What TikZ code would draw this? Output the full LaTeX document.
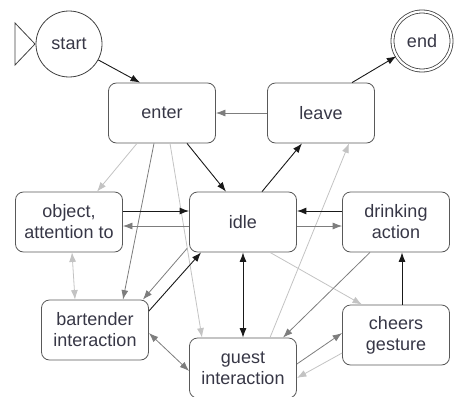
\documentclass[tikz,border=0pt]{standalone}
\usepackage{fontspec}
\setmainfont{Liberation Sans}
\usetikzlibrary{calc,shapes,arrows.meta}
\definecolor{txt}{RGB}{55,55,70}
\definecolor{midgray}{RGB}{125,125,125}
\definecolor{pale}{RGB}{195,195,195}

\tikzset{
    hd/.tip={Latex[length=9.5pt,width=7pt]},
    state/.style={draw=black!65, line width=0.8pt, rounded corners=8pt, minimum width=107pt, minimum height=60pt, align=center, text=txt, font=\fontsize{18}{21}\selectfont},
    ring/.style={draw=black!75, line width=0.8pt, circle, inner sep=0pt, text=txt, font=\fontsize{18}{21}\selectfont},
    blk/.style={draw=black!90, line width=0.9pt},
    gry/.style={draw=midgray, line width=0.8pt},
    pl/.style={draw=pale, line width=0.8pt}
}

\begin{document}
\begin{tikzpicture}[x=1pt,y=-1pt]
        \useasboundingbox (0,0) rectangle (454,396);
        \draw[black!75, line width=0.8pt] (15,23) -- (35,44) -- (15,65) -- cycle;
        \node[ring, minimum size=66pt] (start) at (69,44) {start};
        \node[ring, minimum size=59pt, double, double distance=2.2pt] (end) at (422,41) {end};
        \node[state] (enter) at (162,113) {enter};
        \node[state] (leave) at (321,113) {leave};
        \node[state] (object) at (69,222) {object,\\attention to};
        \node[state] (idle) at (243,222) {idle};
        \node[state] (drinking) at (396,222) {drinking\\action};
        \node[state] (bartender) at (95,330) {bartender\\interaction};
        \node[state] (guest) at (243,368) {guest\\interaction};
        \node[state] (cheers) at (396,335) {cheers\\gesture};

        \draw[blk,-hd] (start) -- ([xshift=-22pt]enter.north);
        \draw[gry,-hd] (leave.west) -- (enter.east);
        \draw[blk,-hd] ([xshift=31pt]leave.north) -- (end);
        \draw[pl,-hd] ([xshift=-25pt]enter.south) -- ([xshift=28pt]object.north);
        \draw[gry,-hd] ([xshift=-8pt]enter.south) -- ([xshift=28pt]bartender.north);
        \draw[pl,-hd] ([xshift=8pt]enter.south) -- ([xshift=-41pt]guest.north);
        \draw[blk,-hd] ([xshift=25pt]enter.south) -- ([xshift=-17pt]idle.north);
        \draw[blk,-hd] ([xshift=19pt]idle.north) -- ([xshift=-19pt]leave.south);
        \draw[pl,-hd] ([xshift=27pt]guest.north) -- ([xshift=28pt]leave.south);

        \draw[blk,-hd] ([yshift=11pt]object.east) -- ([yshift=11pt]idle.west);
        \draw[gry,-hd] ([yshift=-4pt]idle.west) -- ([yshift=-4pt]object.east);
        \draw[blk,-hd] ([yshift=11pt]drinking.west) -- ([yshift=11pt]idle.east);
        \draw[gry,-hd] ([yshift=-4pt]idle.east) -- ([yshift=-4pt]drinking.west);

        \draw[pl,hd-hd] ([xshift=3pt]object.south) -- ([xshift=-20pt]bartender.north);
        \draw[gry,-hd] ([xshift=-2pt,yshift=4pt]idle.south west) -- ([xshift=-6pt]bartender.north east);
        \draw[blk,-hd] ([yshift=19pt]bartender.east) -- ([xshift=12pt]idle.south west);
        \draw[gry,hd-hd] ([yshift=-3pt]bartender.east) -- ([yshift=-3pt]guest.west);
        \draw[blk,hd-hd] (idle.south) -- (guest.north);
        \draw[pl,-hd] ([xshift=27pt]idle.south) -- ([xshift=-34pt]cheers.north);
        \draw[gry,-hd] ([xshift=-26pt]drinking.south) -- ([xshift=40pt]guest.north);
        \draw[blk,-hd] ([xshift=6pt]cheers.north) -- ([xshift=6pt]drinking.south);
        \draw[gry,-hd] ([yshift=4pt]guest.east) -- ([yshift=2pt]cheers.west);
        \draw[pl,-hd] ([yshift=-18pt]cheers.west) -- ([yshift=-10pt]guest.east);
    \end{tikzpicture}
\end{document}
